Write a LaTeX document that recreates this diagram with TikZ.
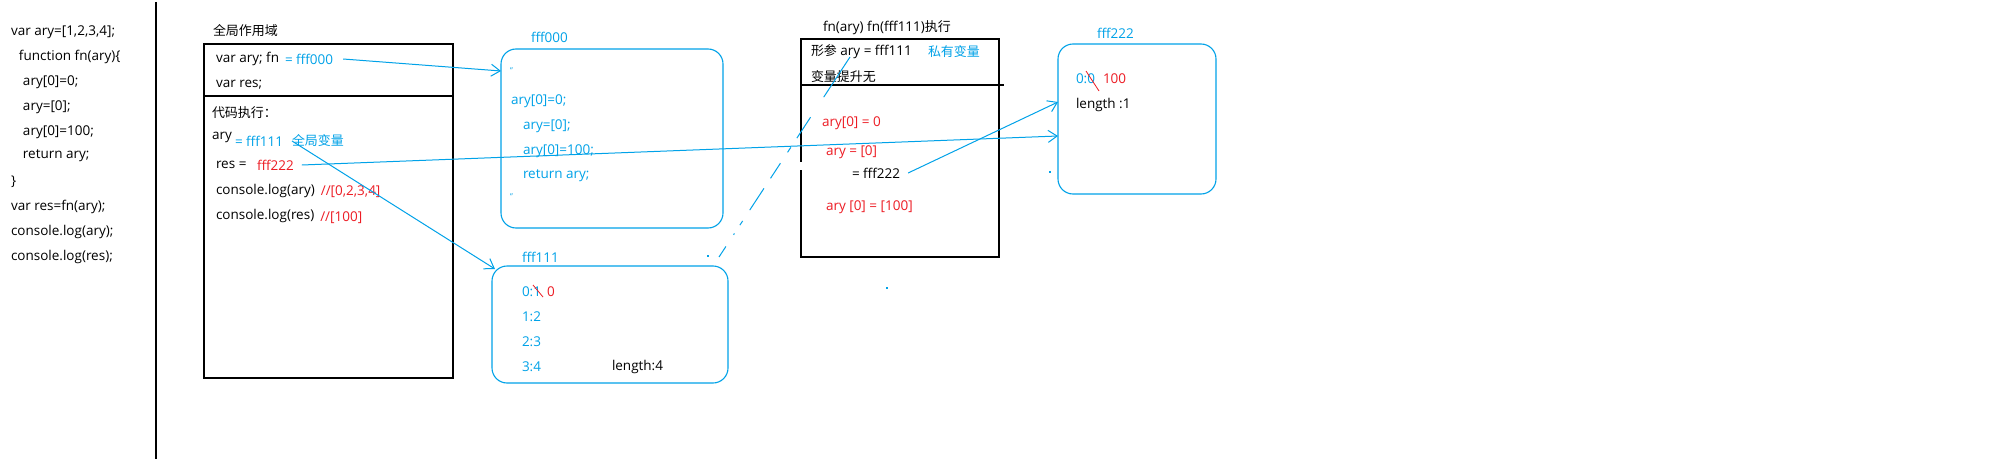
\documentclass[tikz,border=0pt]{standalone}
\usepackage{fontspec}
\setmainfont{Open Sans}
\newfontfamily\cjk[Scale=0.96]{Noto Sans CJK SC}
\usetikzlibrary{arrows.meta,calc}
\definecolor{pblue}{HTML}{00A2E8}
\definecolor{pred}{HTML}{ED1C24}
\begin{document}
\begin{tikzpicture}[x=1pt,y=-1pt,
  txt/.style={anchor=west,inner sep=0pt,outer sep=0pt,font=\fontsize{13.5}{15}\selectfont},
  btxt/.style={txt,text=pblue},
  rtxt/.style={txt,text=pred},
  box/.style={draw=black,line width=1.2pt,inner sep=0pt,outer sep=0pt},
  rbox/.style={draw=pblue,line width=1.1pt,rounded corners=15pt,inner sep=0pt,outer sep=0pt},
  conn/.style={pblue,line width=1pt,-{Straight Barb[length=9pt,width=12pt]}},
  plain/.style={pblue,line width=1pt}]
\useasboundingbox (0,0) rectangle (2000,460);
\fill[white] (0,0) rectangle (2000,460);

% left code
\node[txt] (c1) at (11,32) {var ary=[1,2,3,4];};
\node[txt] (c2) at (19,57) {function fn(ary)\{};
\node[txt] (c3) at (23,82) {ary[0]=0;};
\node[txt] (c4) at (23,107) {ary=[0];};
\node[txt] (c5) at (23,132) {ary[0]=100;};
\node[txt] (c6) at (23,156) {return ary;};
\node[txt] (c7) at (11,182) {\}};
\node[txt] (c8) at (11,207) {var res=fn(ary);};
\node[txt] (c9) at (11,232) {console.log(ary);};
\node[txt] (c10) at (11,257) {console.log(res);};
\draw[line width=1.3pt] (156,2) -- (156,459);

% global scope
\node[box,minimum width=249pt,minimum height=334pt] (g) at (328.5,211) {};
\node[txt] (gt) at (213,31) {\cjk 全局作用域};
\draw[line width=1.2pt] ($(g.north west)+(-1,52)$) -- ($(g.north east)+(0,52)$);
\node[txt] (g1) at (216,59) {var ary; fn};
\node[btxt] (v0) at (285,59) {= fff000};
\node[txt] (g2) at (216,85) {var res;};
\node[txt] (g3) at (212,113) {\cjk 代码执行：};
\node[txt] (g4) at (212,137) {ary};
\node[btxt] (v1) at (235,141) {= fff111};
\node[btxt] (v1b) at (292,141) {\cjk 全局变量};
\node[txt] (g5) at (216,165) {res =};
\node[rtxt] (v2) at (257,165) {fff222};
\node[txt] (g6) at (216,191) {console.log(ary)};
\node[rtxt,anchor=west] (g6r) at ([xshift=6pt,yshift=-1pt]g6.east) {//[0,2,3,4]};
\node[txt] (g7) at (216,216) {console.log(res)};
\node[rtxt,anchor=west] (g7r) at ([xshift=6pt,yshift=-2pt]g7.east) {//[100]};

% fff000
\node[rbox,minimum width=222pt,minimum height=179pt] (f0) at (612,138.5) {};
\node[btxt] (f0t) at (531,37) {fff000};
\node[btxt,font=\fontsize{8}{9}\selectfont] (q1) at (510,71) {"};
\node[btxt] (f01) at (511,101) {ary[0]=0;};
\node[btxt] (f02) at (523,126) {ary=[0];};
\node[btxt] (f03) at (523,151) {ary[0]=100;};
\node[btxt] (f04) at (523,176) {return ary;};
\node[btxt,font=\fontsize{8}{9}\selectfont] (q2) at (510,197) {"};

% fff111
\node[rbox,minimum width=236pt,minimum height=117pt] (f1) at (610,324.5) {};
\node[btxt] (f1t) at (522,257) {fff111};
\node[btxt] (f11) at (522,292) {0:1};
\node[rtxt] (f11r) at (547,292) {0};
\draw[pred,line width=0.8pt] (533,285) -- (543,297);
\node[btxt] (f12) at (522,317) {1:2};
\node[btxt] (f13) at (522,342) {2:3};
\node[btxt] (f14) at (522,367) {3:4};
\node[txt] (f15) at (612,367) {length:4};

% fn execution
\node[box,minimum width=198pt,minimum height=218pt] (fn) at (900,148) {};
\draw[white,line width=3pt] (801,162) -- (801,170);
\node[txt] (fnt) at (823,28) {fn(ary) fn(fff111){\cjk 执行}};
\node[txt] (fn1) at (811,52) {{\cjk 形参} ary = fff111};
\node[btxt] (fn1b) at (928,52) {\cjk 私有变量};
\node[txt] (fn2) at (811,77) {\cjk 变量提升无};
\draw[line width=1.2pt] ($(fn.north west)+(0,46)$) -- ($(fn.north east)+(5,46)$);
\node[rtxt] (fn3) at (822,123) {ary[0] = 0};
\node[rtxt] (fn4) at (826,152) {ary = [0]};
\node[txt] (fnv) at (852,173) {= fff222};
\node[rtxt] (fn5) at (826,207) {ary [0] = [100]};

% fff222
\node[rbox,minimum width=158pt,minimum height=150pt] (f2) at (1137,119) {};
\node[btxt] (f2t) at (1097,33) {fff222};
\node[btxt] (f21) at (1076,79) {0:0};
\node[rtxt] (f21r) at (1103,79) {100};
\draw[pred,line width=0.8pt] (1086,71) -- (1099,91);
\node[txt] (f22) at (1076,105) {length :1};

% connectors
\draw[conn] ([xshift=10pt]v0.east) -- ($(f0.north west)+(0,22)$);
\draw[conn] (v1b.west) -- ($(f1.north west)+(3,3)$);
\draw[conn] ([xshift=8pt]v2.east) -- ($(f2.north west)+(0,92)$);
\draw[conn] ([xshift=8pt]fnv.east) -- ($(f2.north west)+(0,58)$);
\coordinate (d1) at (850,57);
\coordinate (d2) at (719,257);
\draw[plain,dash pattern=on 48pt off 24pt on 25pt off 11pt on 6pt off 13pt on 18pt off 12pt on 26pt off 13pt on 5pt off 10pt on 1.5pt off 14pt on 14pt off 20pt] (d1) -- (d2);
\fill[pblue] (707,255) rectangle (709,257);
\fill[pblue] (886,287) rectangle (888,289);
\fill[pblue] (1049,171) rectangle (1051,173);
\end{tikzpicture}
\end{document}
